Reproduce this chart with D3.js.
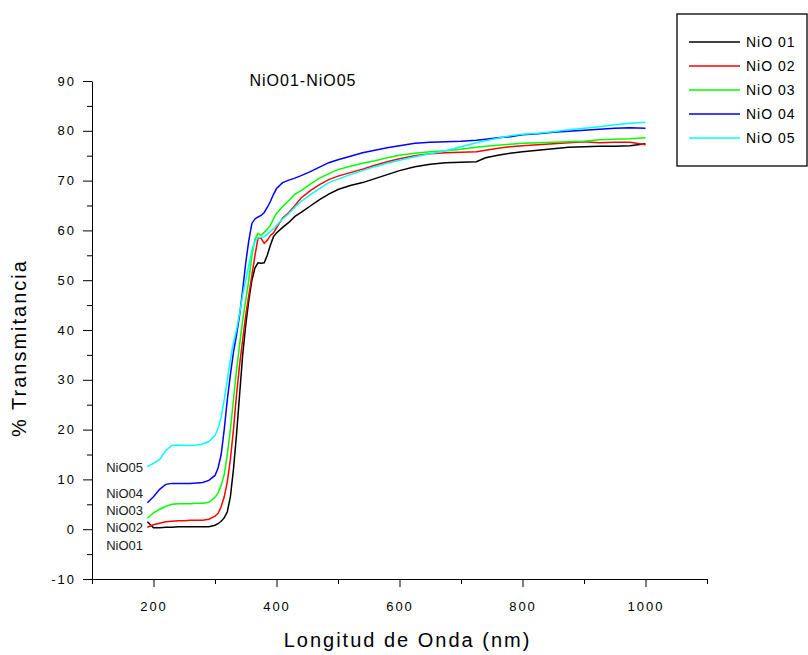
<!DOCTYPE html>
<html>
<head>
<meta charset="utf-8">
<script src="https://cdn.jsdelivr.net/npm/d3@7"></script>
<style>
  body { margin: 0; background: #fff; }
  text { font-family: "Liberation Sans", Arial, sans-serif; fill: #000; }
</style>
</head>
<body>
<div id="chart"></div>
<script>
// Transmittance spectra of NiO films

// wavelength grid (nm) shared by all series
var wavelength = [190,200,210,220,230,240,250,260,270,280,290,300,305,310,315,320,325,330,335,340,
  345,350,355,360,365,370,375,380,385,390,395,400,410,420,430,440,455,470,485,500,
  520,540,560,580,600,625,650,675,700,725,740,760,780,800,825,850,875,900,925,950,975,1000];

var nio01 = [1.5,0.3,0.3,0.4,0.4,0.5,0.5,0.5,0.5,0.5,0.5,0.8,1.1,1.6,2.3,3.5,6.5,12,19,27,
  35,41,46,50,52.5,53.5,53.4,53.5,55,57,58.7,59.5,60.6,61.6,62.8,63.6,64.9,66.2,67.3,68.2,
  69,69.6,70.4,71.2,72,72.8,73.3,73.6,73.7,73.8,74.6,75.1,75.5,75.8,76.1,76.4,76.7,76.8,76.9,76.9,77,77.4];

var nio02 = [0.4,0.9,1.2,1.5,1.6,1.7,1.7,1.8,1.8,1.8,2,2.6,3.2,4.5,6.5,9.5,14,20,27,33,
  38,43,47,51,55,58.5,58.4,57.4,58,59,59.5,60.5,62.5,63.6,65,66.5,68,69.2,70.2,70.9,
  71.6,72.3,73.1,73.8,74.4,75,75.4,75.6,75.7,75.8,76.1,76.5,76.8,77,77.2,77.4,77.6,77.8,77.6,77.7,77.7,77.2];

var nio03 = [2.2,3.3,4,4.6,5,5.1,5.1,5.1,5.2,5.2,5.4,6.4,7.3,8.8,11,15,20,26,32,37,
  42,46,50,55,58.2,59.4,59,59.6,60.2,61,62.3,63.4,64.8,66,67.3,68,69.3,70.5,71.4,72.2,
  72.9,73.5,74,74.6,75.1,75.5,75.8,76,76.3,76.7,76.9,77.1,77.3,77.5,77.6,77.7,77.8,77.9,78.2,78.3,78.4,78.6];

var nio04 = [5.3,6.5,8,9,9.2,9.2,9.2,9.2,9.3,9.4,9.8,10.8,12.3,15,20,26,31,35.5,39,43,
  48,53.5,58,61.4,62.3,62.7,63,63.6,64.6,65.8,67.2,68.4,69.6,70.1,70.5,71,71.8,72.7,73.6,74.2,
  74.9,75.6,76.1,76.6,77,77.5,77.7,77.8,77.9,78.1,78.3,78.6,78.8,79.2,79.4,79.7,79.9,80.1,80.3,80.5,80.6,80.5];

var nio05 = [12.6,13.2,14,15.8,16.8,16.9,16.8,16.8,16.9,17.1,17.6,18.8,20.2,22.5,26,30,34,37.5,40,43.4,
  47,50,53,56,57.8,58.5,58.6,58.7,59.2,59.8,60.3,61,62.3,63.4,64.7,65.8,67.2,68.4,69.6,70.3,
  71.2,72,72.8,73.5,74.1,74.8,75.4,76,76.8,77.6,78,78.5,79,79.3,79.5,79.8,80.2,80.5,80.8,81.2,81.5,81.7];

var seriesNames = ["NiO 01", "NiO 02", "NiO 03", "NiO 04", "NiO 05"];
var seriesColors = ["#000000", "#ff0000", "#00ff00", "#0000ff", "#00ffff"];
var seriesValues = [nio01, nio02, nio03, nio04, nio05];

// small labels next to the start of each curve: [text, y value]
var curveLabels = [["NiO05", 12.3], ["NiO04", 7.2], ["NiO03", 3.7], ["NiO02", 0.4], ["NiO01", -3.2]];

var yTicks = d3.range(-10, 91, 5);
var xTicks = d3.range(100, 1101, 100);

var W = 808, H = 655;
var plot = { left: 92, right: 707, top: 81, bottom: 579 };

var svg = d3.select("#chart").append("svg")
  .attr("width", W).attr("height", H);

var x = d3.scaleLinear().domain([100, 1100]).range([plot.left, plot.right]);
var y = d3.scaleLinear().domain([-10, 90]).range([plot.bottom, plot.top]);

// y axis, major ticks every 10 with labels, minor every 5
var yAxis = svg.append("g")
  .attr("transform", `translate(${plot.left},0)`)
  .call(d3.axisLeft(y).tickValues(yTicks).tickSizeOuter(0)
    .tickFormat(d => d % 10 === 0 ? d : ""));
yAxis.selectAll(".tick line").attr("x2", d => d % 10 === 0 ? -9 : -5);
yAxis.selectAll("text").attr("x", -16).style("font-size", "13px")
  .style("letter-spacing", "2px");

// x axis
var xAxis = svg.append("g")
  .attr("transform", `translate(0,${plot.bottom})`)
  .call(d3.axisBottom(x).tickValues(xTicks).tickSizeOuter(0)
    .tickFormat(d => (d % 200 === 0 && d <= 1000) ? d : ""));
xAxis.selectAll(".tick line").attr("y2", d => d % 200 === 0 ? 8 : 5);
xAxis.selectAll("text").attr("y", 23).style("font-size", "13px")
  .style("letter-spacing", "2px");
svg.selectAll(".domain").attr("stroke", "#000");

// curves
var line = d3.line()
  .x((d, i) => x(wavelength[i]))
  .y(d => y(d));

svg.append("g").selectAll("path")
  .data(seriesValues)
  .join("path")
  .attr("d", line)
  .attr("fill", "none")
  .attr("stroke", (d, i) => seriesColors[i])
  .attr("stroke-width", 1.5);

// labels at curve starts
svg.append("g").selectAll("text")
  .data(curveLabels)
  .join("text")
  .attr("x", x(183))
  .attr("y", d => y(d[1]))
  .attr("dy", "0.35em")
  .attr("text-anchor", "end")
  .style("font-size", "13px")
  .style("fill", "#1a1a1a")
  .text(d => d[0]);

// title
svg.append("text")
  .attr("x", 303).attr("y", 86)
  .attr("text-anchor", "middle")
  .style("font-size", "16px")
  .style("letter-spacing", "1px")
  .text("NiO01-NiO05");

// axis titles
svg.append("text")
  .attr("x", (plot.left + plot.right) / 2 + 8).attr("y", 647)
  .attr("text-anchor", "middle")
  .style("font-size", "20px")
  .style("letter-spacing", "2px")
  .text("Longitud de Onda (nm)");

svg.append("text")
  .attr("transform", "translate(26,348) rotate(-90)")
  .attr("text-anchor", "middle")
  .style("font-size", "20px")
  .style("letter-spacing", "2px")
  .text("% Transmitancia");

// legend
var legend = svg.append("g").attr("transform", "translate(677,14)");
legend.append("rect")
  .attr("width", 130).attr("height", 152)
  .attr("fill", "#fff").attr("stroke", "#000").attr("stroke-width", 1.3);
var rows = legend.selectAll("g.row")
  .data(seriesNames)
  .join("g")
  .attr("class", "row")
  .attr("transform", (d, i) => `translate(0,${28 + i * 24})`);
rows.append("line")
  .attr("x1", 12).attr("x2", 63)
  .attr("stroke", (d, i) => seriesColors[i])
  .attr("stroke-width", 1.5);
rows.append("text")
  .attr("x", 69).attr("dy", "0.35em")
  .style("font-size", "14px")
  .style("letter-spacing", "1px")
  .text(d => d);
</script>
</body>
</html>
